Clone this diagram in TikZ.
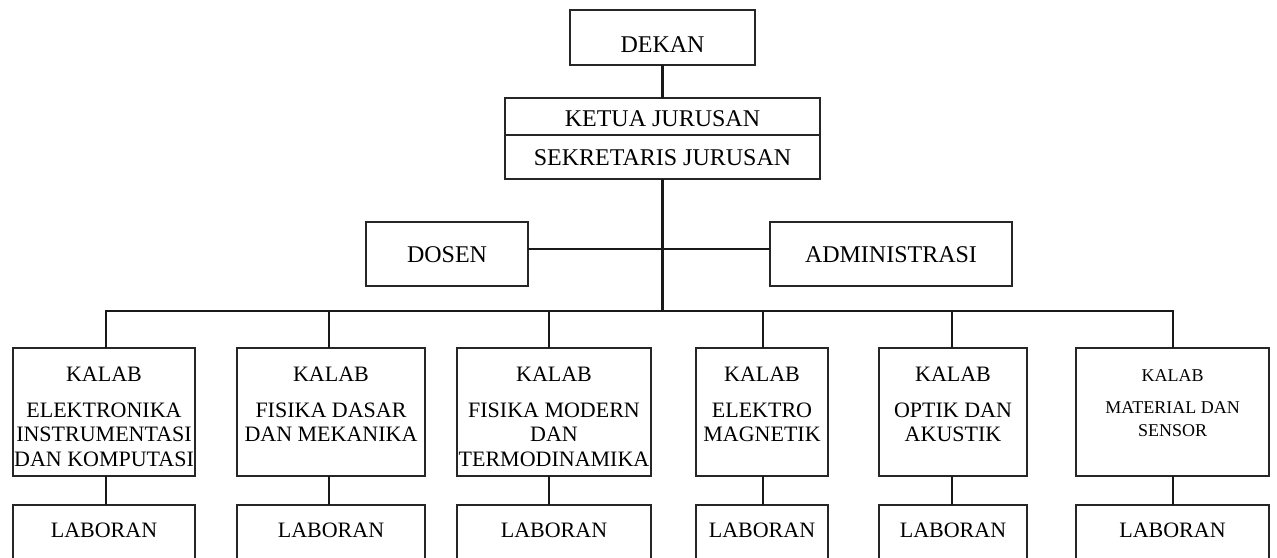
\documentclass[tikz,border=0pt]{standalone}
\usepackage{fontspec}
\setmainfont{Liberation Serif}
\begin{document}
\begin{tikzpicture}[x=1pt,y=-1pt,
  box/.style={draw=black!85, line width=1.7pt, inner sep=0pt, outer sep=0pt, anchor=north west},
  conn/.style={draw=black!90, line width=2.9pt},
  big/.style={inner sep=0pt, anchor=base, font=\fontsize{24}{28}\selectfont},
  lab/.style={inner sep=0pt, align=center, anchor=north, font=\fontsize{22}{24.5}\selectfont},
  labsmall/.style={inner sep=0pt, align=center, anchor=north, font=\fontsize{18}{23}\selectfont},
  labone/.style={inner sep=0pt, anchor=base, font=\fontsize{22}{24.5}\selectfont},
  kbox/.style={box, minimum height=128pt},
  lbox/.style={box, minimum height=80pt}]
\useasboundingbox (0,0) rectangle (1277,557);
\clip (0,0) rectangle (1277,557);

% top of the hierarchy
\node[box, minimum width=185pt, minimum height=55pt] (dekan) at (570,10) {};
\node[big] (dekant) at (662.5,52) {DEKAN};
\node[box, minimum width=315pt, minimum height=37pt] (ketua) at (505,98) {};
\node[big] (ketuat) at (662.5,126) {KETUA JURUSAN};
\node[box, minimum width=315pt, minimum height=44pt] (sekr) at (505,135) {};
\node[big] (sekrt) at (662.5,165) {SEKRETARIS JURUSAN};

% staff
\node[box, minimum width=162pt, minimum height=64pt] (dosen) at (366,222) {};
\node[big] (dosent) at (447,262) {DOSEN};
\node[box, minimum width=242pt, minimum height=64pt] (admin) at (770,222) {};
\node[big] (admint) at (891,262) {ADMINISTRASI};

% laboratory heads
\node[kbox, minimum width=182pt] (k1) at (13,348) {};
\node[kbox, minimum width=188pt] (k2) at (237,348) {};
\node[kbox, minimum width=194pt] (k3) at (457,348) {};
\node[kbox, minimum width=132pt] (k4) at (696,348) {};
\node[kbox, minimum width=148pt] (k5) at (879,348) {};
\node[kbox, minimum width=193pt] (k6) at (1076,348) {};

\node[lab] (k1t) at (104,366.4) {KALAB\\[11.5pt]ELEKTRONIKA\\INSTRUMENTASI\\DAN KOMPUTASI};
\node[lab] (k2t) at (331,366.4) {KALAB\\[11.5pt]FISIKA DASAR\\DAN MEKANIKA};
\node[lab] (k3t) at (554,366.4) {KALAB\\[11.5pt]FISIKA MODERN\\DAN\\TERMODINAMIKA};
\node[lab] (k4t) at (762,366.4) {KALAB\\[11.5pt]ELEKTRO\\MAGNETIK};
\node[lab] (k5t) at (953,366.4) {KALAB\\[11.5pt]OPTIK DAN\\AKUSTIK};
\node[labsmall] (k6t) at (1172.5,369.1) {KALAB\\[9pt]MATERIAL DAN\\SENSOR};

% laboratory assistants
\node[lbox, minimum width=182pt] (l1) at (13,505) {};
\node[lbox, minimum width=188pt] (l2) at (237,505) {};
\node[lbox, minimum width=194pt] (l3) at (457,505) {};
\node[lbox, minimum width=132pt] (l4) at (696,505) {};
\node[lbox, minimum width=148pt] (l5) at (879,505) {};
\node[lbox, minimum width=193pt] (l6) at (1076,505) {};
\foreach \i/\x in {1/104,2/331,3/554,4/762,5/953,6/1172.5}
  \node[labone] (l\i t) at (\x,537) {LABORAN};

% junctions
\coordinate (jd) at (662.5,249);
\coordinate (bus) at (662.5,311);
\coordinate (c1) at (106,311);
\coordinate (c2) at (329,311);
\coordinate (c3) at (549,311);
\coordinate (c4) at (763,311);
\coordinate (c5) at (952,311);
\coordinate (c6) at (1173,311);

% connectors
\draw[conn] (dekan.south) -- (ketua.north);
\draw[conn] (sekr.south) -- (bus);
\draw[conn] (dosen.east |- jd) -- (jd) -- (admin.west |- jd);
\draw[conn, line join=miter] (c1 |- k1.north) -- (c1) -- (c6) -- (c6 |- k6.north);
\foreach \i in {2,3,4,5}
  \draw[conn] (c\i) -- (c\i |- k\i.north);
\foreach \i in {1,...,6}
  \draw[conn] (c\i |- k\i.south) -- (c\i |- l\i.north);
\end{tikzpicture}
\end{document}
